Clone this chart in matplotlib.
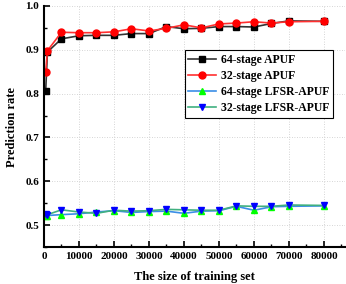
import matplotlib.pyplot as plt
from matplotlib.ticker import MultipleLocator

x = [500, 1000, 5000, 10000, 15000, 20000, 25000, 30000, 35000, 40000,
     45000, 50000, 55000, 60000, 65000, 70000, 80000]
apuf64 = [0.807, 0.895, 0.925, 0.932, 0.933, 0.933, 0.937, 0.937, 0.953, 0.948,
          0.949, 0.953, 0.953, 0.952, 0.960, 0.966, 0.965]
apuf32 = [0.850, 0.898, 0.940, 0.939, 0.939, 0.941, 0.948, 0.943, 0.949, 0.957,
          0.950, 0.959, 0.961, 0.964, 0.961, 0.964, 0.965]
lfsr64 = [0.520, 0.522, 0.524, 0.526, 0.530, 0.533, 0.529, 0.531, 0.532, 0.527,
          0.532, 0.533, 0.543, 0.534, 0.542, 0.543, 0.544]
lfsr32 = [0.525, 0.524, 0.535, 0.530, 0.527, 0.534, 0.532, 0.533, 0.536, 0.535,
          0.534, 0.534, 0.544, 0.543, 0.543, 0.546, 0.545]

plt.rcParams['font.family'] = ['Liberation Serif', 'DejaVu Serif']
plt.rcParams['font.weight'] = 'bold'

fig = plt.figure(figsize=(3.46, 2.84), dpi=100)
ax = fig.add_axes([0.127, 0.13, 0.87, 0.849])

ax.plot(x, apuf64, '-', color='#333333', lw=1.2, marker='s', mfc='black',
        mec='black', ms=4.5, label='64-stage APUF')
ax.plot(x, apuf32, '-', color='#ff3030', lw=1.2, marker='o', mfc='red',
        mec='red', ms=5, label='32-stage APUF')
ax.plot(x, lfsr64, '-', color='#3a8ee6', lw=1.2, marker='^', mfc='#00ff00',
        mec='#00ff00', ms=5, label='64-stage LFSR-APUF')
ax.plot(x, lfsr32, '-', color='#40b080', lw=1.2, marker='v', mfc='#0000ff',
        mec='#0000ff', ms=5, label='32-stage LFSR-APUF')

ax.set_xlim(0, 86000)
ax.set_ylim(0.45, 1.0)
ax.xaxis.set_major_locator(MultipleLocator(10000))
ax.xaxis.set_minor_locator(MultipleLocator(5000))
ax.yaxis.set_major_locator(MultipleLocator(0.1))
ax.yaxis.set_minor_locator(MultipleLocator(0.05))
ax.grid(True, which='major', ls=(0, (1, 2)), color='#c8c8c8', lw=0.6)
ax.tick_params(which='both', direction='in', labelsize=8)
ax.tick_params(which='major', length=4, width=1.2)
ax.tick_params(which='minor', length=2, width=1.0)

ax.spines['top'].set_visible(False)
ax.spines['right'].set_visible(False)
ax.spines['left'].set_linewidth(1.5)
ax.spines['bottom'].set_linewidth(1.5)

ax.set_xlabel('The size of training set', fontsize=9, fontweight='bold',
              labelpad=7)
ax.set_ylabel('Prediction rate', fontsize=9, fontweight='bold', labelpad=5)

leg = ax.legend(loc='upper right', bbox_to_anchor=(0.98, 0.84), fontsize=8.5,
                fancybox=False, edgecolor='black', framealpha=1,
                handlelength=2.4, borderpad=0.3, labelspacing=0.35,
                handletextpad=0.4)
leg.get_frame().set_linewidth(0.8)

fig.savefig('out.png', dpi=100)
